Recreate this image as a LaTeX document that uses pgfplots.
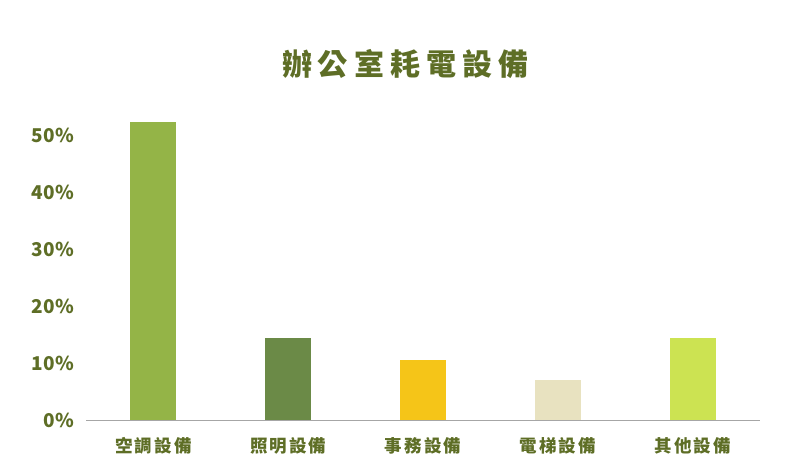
\documentclass[border=0pt]{standalone}
\usepackage{pgfplots}
\pgfplotsset{compat=1.18}
\usepackage{fontspec}
\setmainfont{Noto Sans CJK TC}
\newfontfamily\titlefont[LetterSpace=20]{Noto Sans CJK TC}
\newfontfamily\catfont[LetterSpace=12]{Noto Sans CJK TC}
\definecolor{txt}{HTML}{5E6E26}
\definecolor{cA}{HTML}{94B447}
\definecolor{cB}{HTML}{6B8A47}
\definecolor{cC}{HTML}{F5C518}
\definecolor{cD}{HTML}{E8E2C0}
\definecolor{cE}{HTML}{CCE352}
\definecolor{axisgray}{HTML}{A6A6A6}
\begin{document}
\begin{tikzpicture}
    \useasboundingbox (0,0) rectangle (794bp,476bp);
    \node[txt, font={\titlefont\bfseries\fontsize{30bp}{34bp}\selectfont}, anchor=center, xshift=3bp]
        at (402bp,412bp) {辦公室耗電設備};
    \begin{axis}[
            at={(86bp,56bp)}, anchor=south west,
            scale only axis,
            width=674bp, height=341.4bp,
            %
            xmin=-0.5, xmax=4.5,
            ymin=0, ymax=60,
            %
            axis x line*=bottom,
            axis y line*=left,
            y axis line style={draw=none},
            x axis line style={axisgray, line width=1bp, -},
            major tick length=0pt,
            %
            xtick={0,1,2,3,4},
            xticklabels={空調設備, 照明設備, 事務設備, 電梯設備, 其他設備},
            xticklabel style={txt, font={\catfont\bfseries\fontsize{17.5bp}{20bp}\selectfont}, anchor=base, inner sep=0pt, yshift=-32bp},
            ytick={0,10,20,30,40,50},
            yticklabel={\pgfmathprintnumber{\tick}\%},
            yticklabel style={txt, font={\bfseries\fontsize{19bp}{22bp}\selectfont}, anchor=east, inner sep=0pt, xshift=-12bp},
            /pgf/number format/assume math mode=true,
            clip=false,
        ]
        \addplot[ybar, bar width=46bp, bar shift=0pt, fill=cA, draw=none] coordinates {(0,52.3)};
        \addplot[ybar, bar width=46bp, bar shift=0pt, fill=cB, draw=none] coordinates {(1,14.4)};
        \addplot[ybar, bar width=46bp, bar shift=0pt, fill=cC, draw=none] coordinates {(2,10.6)};
        \addplot[ybar, bar width=46bp, bar shift=0pt, fill=cD, draw=none] coordinates {(3,7.1)};
        \addplot[ybar, bar width=46bp, bar shift=0pt, fill=cE, draw=none] coordinates {(4,14.4)};
    \end{axis}
\end{tikzpicture}
\end{document}
